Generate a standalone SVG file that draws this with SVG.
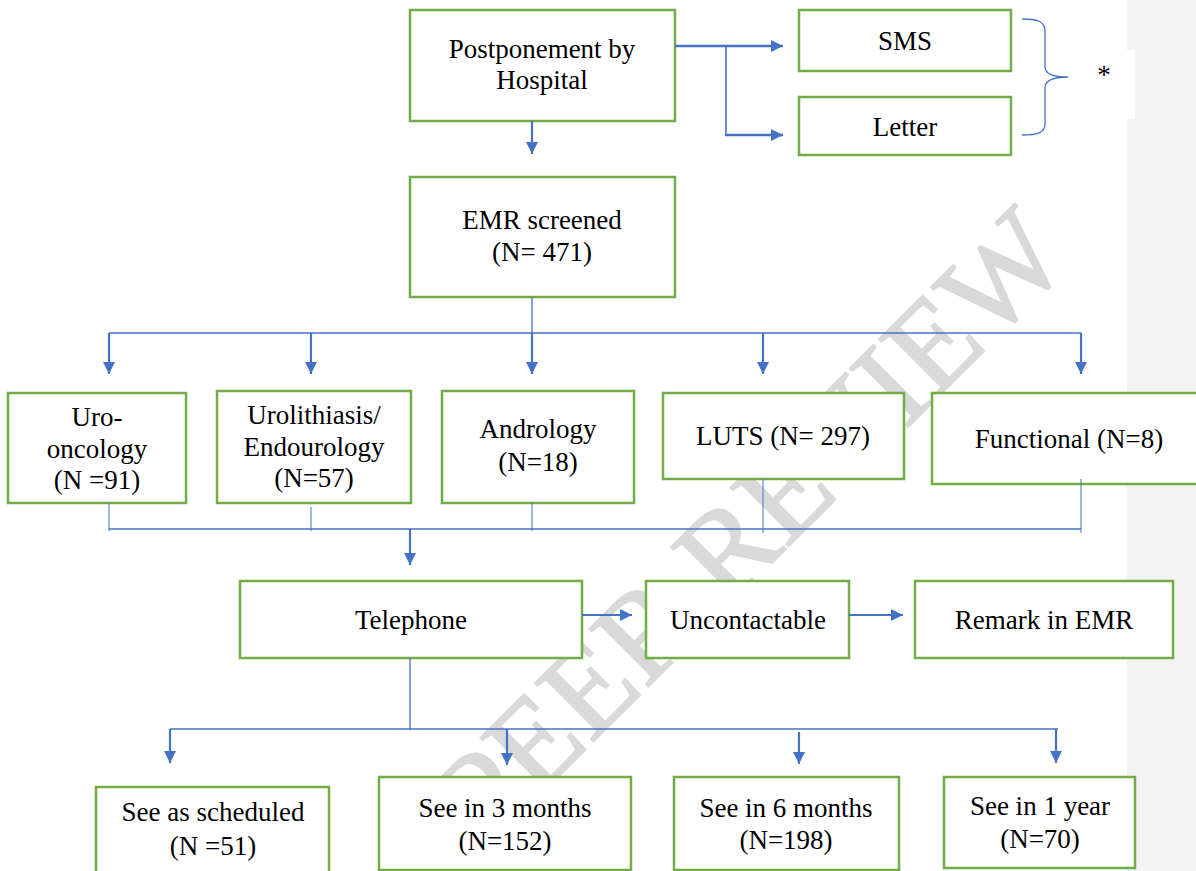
<svg xmlns="http://www.w3.org/2000/svg" width="1196" height="871" viewBox="0 0 1196 871">
<style>
.box{fill:#ffffff;stroke:#70AD47;stroke-width:2.5}
.t{font-family:"Liberation Serif","Times New Roman",serif;font-size:27px;fill:#000000;text-anchor:middle}
.thin{stroke:#4472C4;stroke-width:1.3;fill:none}
.arr{stroke:#4472C4;stroke-width:2.2;fill:none;marker-end:url(#ah)}
.arrb{stroke:#4472C4;stroke-width:2.6;fill:none;marker-end:url(#ah)}
.wm{font-family:"Liberation Serif","Times New Roman",serif;font-size:126px;fill:#d9d9d9;stroke:#d9d9d9;stroke-width:2;text-anchor:middle}
</style>
<defs>
<marker id="ah" viewBox="0 0 12 12" refX="12" refY="6" markerWidth="12" markerHeight="12" markerUnits="userSpaceOnUse" orient="auto">
<path d="M0,0 L12,6 L0,12 Z" fill="#4472C4"/>
</marker>
</defs>
<rect x="0" y="0" width="1196" height="871" fill="#ffffff"/>
<rect x="1127" y="0" width="69" height="871" fill="#f3f3f3"/>
<rect x="1127" y="50" width="8" height="69" fill="#ffffff"/>
<text class="wm" x="780" y="555" transform="rotate(-45 780 555)">PEER REVIEW</text>

<g id="n-postponement"><rect class="box" x="410" y="10" width="265" height="111"/><text class="t" x="542" y="58">Postponement by</text><text class="t" x="542" y="89">Hospital</text></g>
<g id="n-sms"><rect class="box" x="799" y="10" width="212" height="61"/><text class="t" x="905" y="50">SMS</text></g>
<g id="n-letter"><rect class="box" x="799" y="97" width="212" height="58"/><text class="t" x="905" y="136">Letter</text></g>
<g id="n-brace"><path class="thin" d="M1022,19 C1037,19 1045,21 1045,31 L1045,67 C1045,74 1053,77 1068,77 C1053,77 1045,80 1045,88 L1045,124 C1045,133 1037,135 1022,135"/><text class="t" x="1104" y="84">*</text></g>
<g id="n-emr"><rect class="box" x="410" y="177" width="265" height="120"/><text class="t" x="542" y="229">EMR screened</text><text class="t" x="542" y="261">(N= 471)</text></g>

<g id="n-uro"><rect class="box" x="8" y="393" width="178" height="110"/><text class="t" x="97" y="426">Uro-</text><text class="t" x="97" y="458">oncology</text><text class="t" x="97" y="489">(N =91)</text></g>
<g id="n-urolith"><rect class="box" x="217" y="391" width="194" height="112"/><text class="t" x="314" y="424">Urolithiasis/</text><text class="t" x="314" y="456">Endourology</text><text class="t" x="314" y="487">(N=57)</text></g>
<g id="n-andro"><rect class="box" x="442" y="391" width="192" height="112"/><text class="t" x="538" y="438">Andrology</text><text class="t" x="538" y="471">(N=18)</text></g>
<g id="n-luts"><rect class="box" x="663" y="393" width="241" height="86"/><text class="t" x="783" y="445" textLength="174" lengthAdjust="spacingAndGlyphs">LUTS (N= 297)</text></g>
<g id="n-func"><rect class="box" x="932" y="393" width="274" height="91"/><text class="t" x="1069" y="448">Functional (N=8)</text></g>

<g id="n-tele"><rect class="box" x="240" y="581" width="342" height="77"/><text class="t" x="411" y="629">Telephone</text></g>
<g id="n-unc"><rect class="box" x="646" y="581" width="203" height="77"/><text class="t" x="748" y="629">Uncontactable</text></g>
<g id="n-remark"><rect class="box" x="915" y="581" width="258" height="77"/><text class="t" x="1044" y="629">Remark in EMR</text></g>

<g id="n-sched"><rect class="box" x="96" y="787" width="233" height="90"/><text class="t" x="213" y="821">See as scheduled</text><text class="t" x="213" y="855">(N =51)</text></g>
<g id="n-m3"><rect class="box" x="379" y="777" width="252" height="93"/><text class="t" x="505" y="817">See in 3 months</text><text class="t" x="505" y="850">(N=152)</text></g>
<g id="n-m6"><rect class="box" x="674" y="777" width="225" height="93"/><text class="t" x="786" y="817">See in 6 months</text><text class="t" x="786" y="849">(N=198)</text></g>
<g id="n-year"><rect class="box" x="944" y="777" width="191" height="91"/><text class="t" x="1040" y="815">See in 1 year</text><text class="t" x="1040" y="848">(N=70)</text></g>

<g id="connectors">
<line class="arrb" x1="675" y1="46" x2="783" y2="46"/>
<line class="thin" x1="726" y1="46" x2="726" y2="135" style="stroke-width:1.6"/>
<line class="arrb" x1="725" y1="135" x2="783" y2="135"/>
<line class="arr" x1="532" y1="121" x2="532" y2="154"/>
<line class="thin" x1="532" y1="297" x2="532" y2="333"/>
<line class="thin" x1="109" y1="333" x2="1081" y2="333"/>
<line class="arr" x1="109" y1="333" x2="109" y2="374"/>
<line class="arr" x1="311" y1="333" x2="311" y2="374"/>
<line class="arr" x1="532" y1="333" x2="532" y2="374"/>
<line class="arr" x1="763" y1="333" x2="763" y2="374"/>
<line class="arr" x1="1081" y1="333" x2="1081" y2="374"/>
<line class="thin" x1="109" y1="503" x2="109" y2="531" style="stroke-width:1"/>
<line class="thin" x1="311" y1="507" x2="311" y2="531" style="stroke-width:1"/>
<line class="thin" x1="532" y1="503" x2="532" y2="531" style="stroke-width:1"/>
<line class="thin" x1="763" y1="479" x2="763" y2="533" style="stroke-width:1"/>
<line class="thin" x1="1081" y1="479" x2="1081" y2="533" style="stroke-width:1"/>
<line class="thin" x1="109" y1="529" x2="1081" y2="529"/>
<line class="arr" x1="410" y1="529" x2="410" y2="565"/>
<line class="arr" x1="582" y1="615" x2="632" y2="615"/>
<line class="arr" x1="849" y1="615" x2="903" y2="615"/>
<line class="thin" x1="410" y1="658" x2="410" y2="730"/>
<line class="thin" x1="170" y1="729" x2="1058" y2="729"/>
<line class="arr" x1="170" y1="729" x2="170" y2="763"/>
<line class="arr" x1="507" y1="729" x2="507" y2="765"/>
<line class="arr" x1="799" y1="732" x2="799" y2="764"/>
<line class="arr" x1="1056" y1="729" x2="1056" y2="763"/>
</g>
</svg>
